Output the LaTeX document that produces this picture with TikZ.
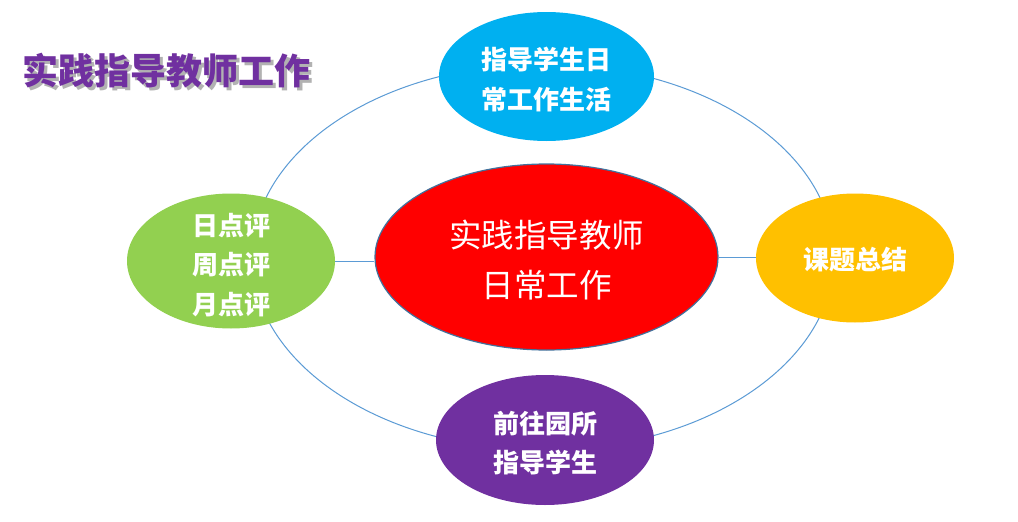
\documentclass[tikz,border=0pt]{standalone}
\usepackage{fontspec}
\setmainfont{Noto Sans CJK SC}
\newfontfamily\cjk{Noto Sans CJK SC}
\usetikzlibrary{shapes.geometric}
\definecolor{ringblue}{HTML}{5B9BD5}
\definecolor{topcyan}{HTML}{00B0F0}
\definecolor{leftgreen}{HTML}{92D050}
\definecolor{rightorange}{HTML}{FFC000}
\definecolor{botpurple}{HTML}{7030A0}
\definecolor{titlepurple}{HTML}{7030A0}
\definecolor{redline}{HTML}{41719C}
\begin{document}
\begin{tikzpicture}[x=1pt,y=-1pt,
  ringline/.style={draw=ringblue, line width=1pt},
  bubble/.style={ellipse, inner sep=0pt},
  label text/.style={inner sep=0pt, align=center, text=white},
  smalltext/.style={label text, font=\cjk\bfseries\fontsize{26}{39.5}\selectfont},
  bigtext/.style={label text, font=\cjk\fontsize{32.5}{50}\selectfont},
  titletext/.style={anchor=west, inner sep=0pt, font=\cjk\bfseries\fontsize{36}{40}\selectfont}]
\useasboundingbox (0,0) rectangle (1018,522);
\fill[white] (0,0) rectangle (1018,522);
% outer ring
\node[ellipse, draw=ringblue, line width=1pt, minimum width=582pt, minimum height=386pt, inner sep=0pt] (ring) at (543,257) {};
% satellite ellipses
\node[bubble, fill=topcyan, minimum width=215pt, minimum height=129pt] (top) at (546.5,76.5) {};
\node[bubble, fill=leftgreen, minimum width=208pt, minimum height=135pt] (left) at (231,261) {};
\node[bubble, fill=rightorange, minimum width=198pt, minimum height=129pt] (right) at (855,258) {};
\node[bubble, fill=botpurple, minimum width=218pt, minimum height=130pt] (bottom) at (545,440) {};
% center ellipse
\node[bubble, fill=red, draw=redline, line width=1.2pt, minimum width=343pt, minimum height=186pt] (center) at (546.5,257) {};
% texts
\node[smalltext] (toptext) at ([yshift=-3pt]top.center) {指导学生日\\常工作生活};
\node[smalltext] (lefttext) at ([yshift=-4pt]left.center) {日点评\\周点评\\月点评};
\node[smalltext] (righttext) at ([yshift=-2pt]right.center) {课题总结};
\node[smalltext] (bottomtext) at ([yshift=-3pt]bottom.center) {前往园所\\指导学生};
\node[bigtext] (centertext) at ([yshift=-3pt]center.center) {实践指导教师\\日常工作};
% connectors
\draw[ringline] (left.east) -- (left.east -| center.west);
\draw[ringline] (center.east) -- (center.east -| right.west);
% title with shadow
\node[titletext, text=black!30] (titleshadow) at (25,74) {实践指导教师工作};
\node[titletext, text=titlepurple] (title) at (22,71) {实践指导教师工作};
\end{tikzpicture}
\end{document}
